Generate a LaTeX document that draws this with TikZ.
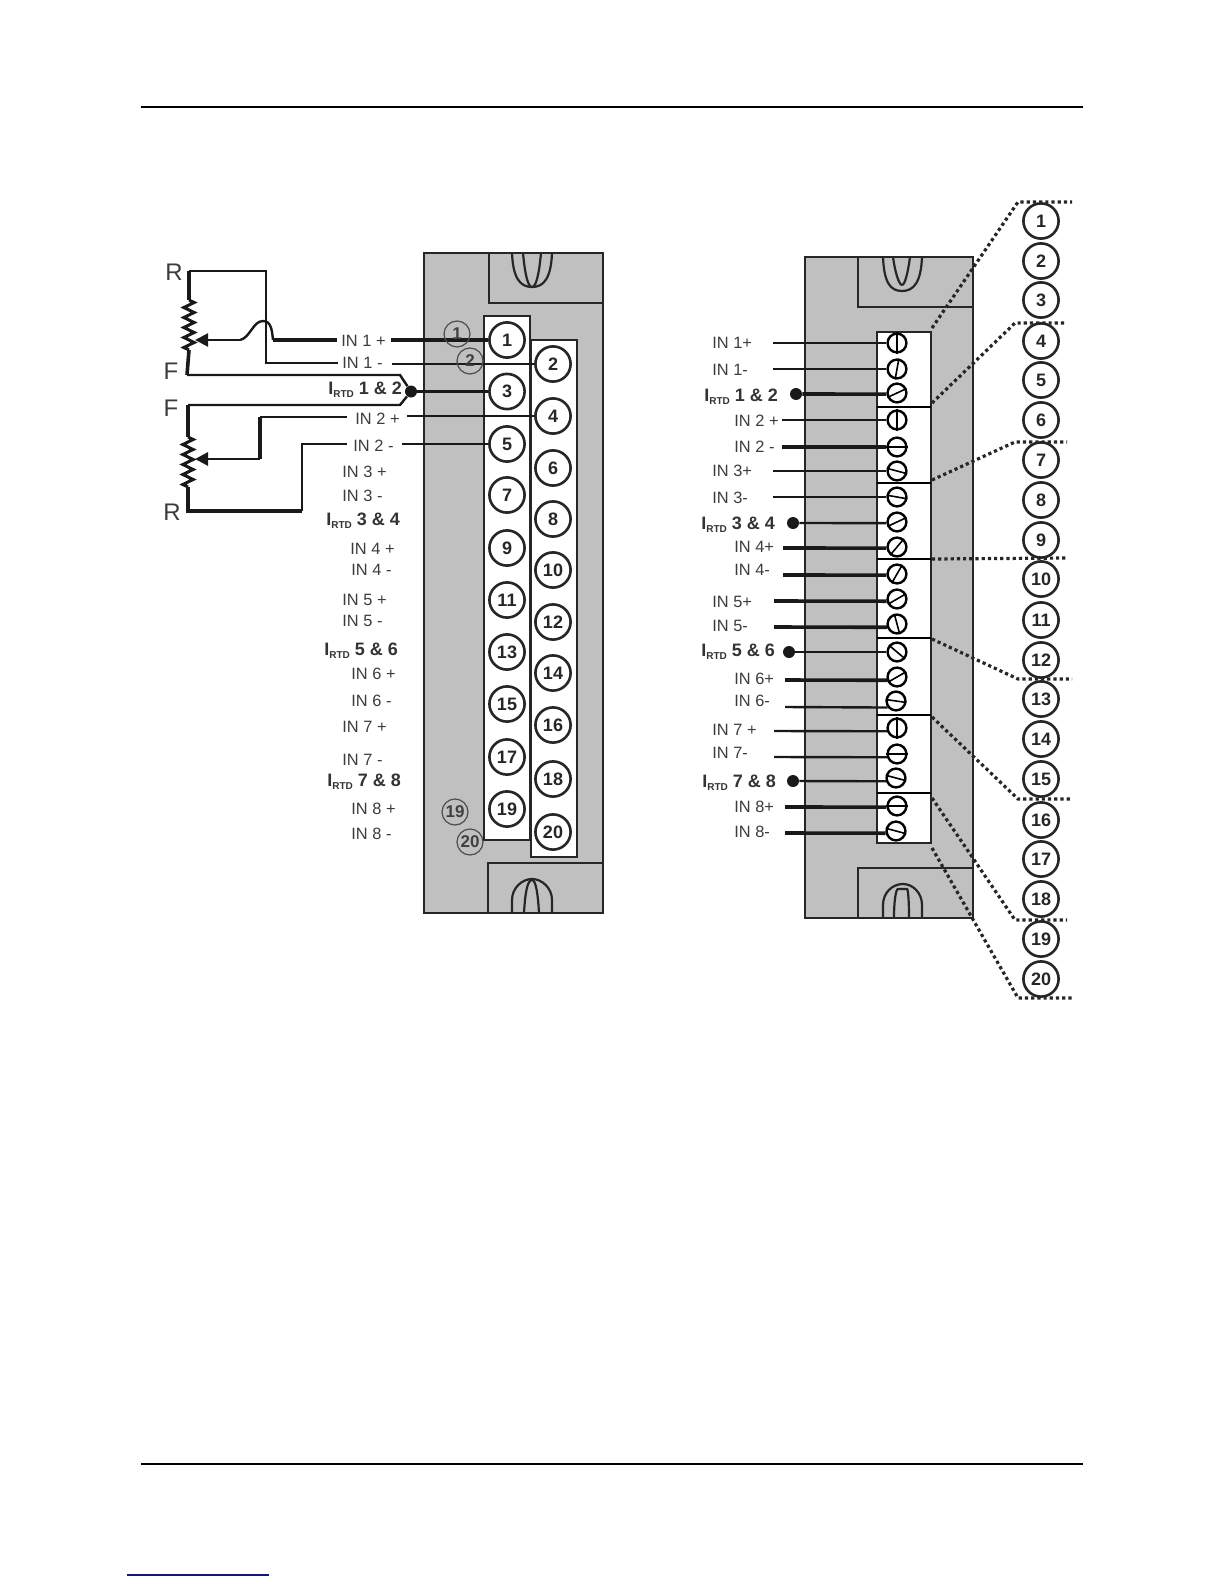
\documentclass[tikz,border=0pt]{standalone}
\usepackage{fontspec}
\setmainfont{Liberation Sans}
\usetikzlibrary{arrows.meta,decorations.pathmorphing}
\definecolor{housinggray}{RGB}{192,192,192}
\definecolor{labelgray}{RGB}{60,60,60}
\definecolor{linkblue}{RGB}{20,20,130}
\newcommand{\irtd}{I\raisebox{-0.35ex}{\fontsize{5}{5}\selectfont RTD}}
\begin{document}
\begin{tikzpicture}[
            x=0.5pt, y=-0.5pt,
            body/.style={draw=black!85, line width=1.3pt, fill=housinggray},
            strip/.style={draw=black!85, line width=1.3pt, fill=white},
            latch/.style={draw=black!85, line width=1.1pt},
            terminal/.style={circle, draw=black!85, fill=white, line width=1.3pt, minimum size=17.6pt, inner sep=0pt, font=\bfseries\fontsize{9}{9}\selectfont, text=black!85},
            pinmark/.style={circle, draw=black!70, line width=0.6pt, minimum size=13pt, inner sep=0pt, font=\bfseries\fontsize{8.5}{8.5}\selectfont, text=black!75},
            screw/.style={circle, draw=black, fill=white, line width=1.2pt, minimum size=9.4pt, inner sep=0pt},
            slot/.style={draw=black, line width=0.8pt},
            lbl/.style={anchor=west, inner sep=0pt, text=labelgray, font=\fontsize{8.2}{8.2}\selectfont},
            irtdlbl/.style={anchor=west, inner sep=0pt, text=black!80, font=\bfseries\fontsize{9}{9}\selectfont},
            letter/.style={inner sep=0pt, text=labelgray, font=\fontsize{12}{12}\selectfont},
            dot/.style={circle, fill=black!90, minimum size=6pt, inner sep=0pt},
            thinwire/.style={draw=black!85, line width=1pt},
            wire/.style={draw=black!90, line width=1.2pt},
            thickwire/.style={draw=black!90, line width=1.8pt},
            wiper/.style={draw=black!90, line width=1.1pt, -{Stealth[length=6.5pt,width=6.5pt,inset=0pt]}},
            zig/.style={draw=black!90, line width=1.5pt, decorate, decoration={zigzag, amplitude=2.6pt, segment length=5pt}},
            dots/.style={draw=black!85, line width=1.6pt, dash pattern=on 1.6pt off 1.5pt}
        ]
            \useasboundingbox (0,0) rectangle (1224,1584);
            % page rules
            \draw[line width=0.7pt] (141,107) -- (1083,107);
            \draw[line width=0.7pt] (141,1464) -- (1083,1464);
            \draw[line width=0.8pt, linkblue] (127,1575) -- (269,1575);

            % left housing
            \draw[body] (424,253) rectangle (603,913);
            \draw[body] (489,253) rectangle (603,303);
            \draw[body] (488,863) rectangle (603,913);
            \draw[latch] (512,253) .. controls (513,278) and (520,287) .. (532,287) .. controls (544,287) and (551,278) .. (552,253);
            \draw[latch] (523,253) .. controls (525,275) and (528,287) .. (532,287);
            \draw[latch] (541,253) .. controls (539,275) and (536,287) .. (532,287);
            \draw[latch] (512,913) -- (512,900) .. controls (512,888) and (522,879) .. (532,879) .. controls (542,879) and (552,888) .. (552,900) -- (552,913);
            \draw[latch] (524,913) .. controls (525,895) and (527,880) .. (532,880);
            \draw[latch] (539,913) .. controls (538,895) and (536,880) .. (532,880);
            \draw[strip] (484,316) rectangle (530,840);
            \draw[strip] (531,340) rectangle (577,857);

            % left terminals
            \node[terminal] (t1) at (507,340) {1};
            \node[terminal] (t3) at (507,391.5) {3};
            \node[terminal] (t5) at (507,444) {5};
            \node[terminal] (t7) at (507,495) {7};
            \node[terminal] (t9) at (507,548) {9};
            \node[terminal] (t11) at (507,600) {11};
            \node[terminal] (t13) at (507,652) {13};
            \node[terminal] (t15) at (507,704) {15};
            \node[terminal] (t17) at (507,757) {17};
            \node[terminal] (t19) at (507,809) {19};
            \node[terminal] (t2) at (553,364) {2};
            \node[terminal] (t4) at (553,416) {4};
            \node[terminal] (t6) at (553,468) {6};
            \node[terminal] (t8) at (553,519) {8};
            \node[terminal] (t10) at (553,570) {10};
            \node[terminal] (t12) at (553,622) {12};
            \node[terminal] (t14) at (553,673) {14};
            \node[terminal] (t16) at (553,725) {16};
            \node[terminal] (t18) at (553,779) {18};
            \node[terminal] (t20) at (553,832) {20};

            % left labels
            \node[lbl] (lin1p) at (341,341) {IN 1 +};
            \node[lbl] (lin1m) at (342,363) {IN 1 -};
            \node[irtdlbl] (lirtd12) at (328,390) {\irtd{} 1 \& 2};
            \node[lbl] (lin2p) at (355,419) {IN 2 +};
            \node[lbl] (lin2m) at (353,446) {IN 2 -};
            \node[lbl] (lin3p) at (342,472) {IN 3 +};
            \node[lbl] (lin3m) at (342,496) {IN 3 -};
            \node[irtdlbl] (lirtd34) at (326,521) {\irtd{} 3 \& 4};
            \node[lbl] (lin4p) at (350,549) {IN 4 +};
            \node[lbl] (lin4m) at (351,570) {IN 4 -};
            \node[lbl] (lin5p) at (342,600) {IN 5 +};
            \node[lbl] (lin5m) at (342,621) {IN 5 -};
            \node[irtdlbl] (lirtd56) at (324,651) {\irtd{} 5 \& 6};
            \node[lbl] (lin6p) at (351,674) {IN 6 +};
            \node[lbl] (lin6m) at (351,701) {IN 6 -};
            \node[lbl] (lin7p) at (342,727) {IN 7 +};
            \node[lbl] (lin7m) at (342,760) {IN 7 -};
            \node[irtdlbl] (lirtd78) at (327,782) {\irtd{} 7 \& 8};
            \node[lbl] (lin8p) at (351,809) {IN 8 +};
            \node[lbl] (lin8m) at (351,834) {IN 8 -};
            \node[letter] (r1lbl) at (174,272) {R};
            \node[letter] (f1lbl) at (171,371) {F};
            \node[letter] (f2lbl) at (171,408) {F};
            \node[letter] (r2lbl) at (172,512) {R};

            % left wires
            \coordinate (r1top) at (189,271);
            \coordinate (r1a) at (189,300);
            \coordinate (r1b) at (189,350);
            \coordinate (r1bot) at (187,375);
            \coordinate (r1tip) at (195,340);
            \coordinate (hump1) at (240,340);
            \coordinate (hump2) at (273,340);
            \coordinate (in1pa) at (337,340);
            \coordinate (in1pb) at (391,340);
            \coordinate (r1turn) at (266,271);
            \coordinate (in1ma) at (338,363);
            \coordinate (in1mb) at (392,364);
            \coordinate (fold1) at (400,375);
            \coordinate (fold2) at (400,405);
            \node[dot] (dot12) at (411,391.5) {};
            \coordinate (r2top) at (188,405);
            \coordinate (r2a) at (188,437);
            \coordinate (r2b) at (188,487);
            \coordinate (r2bot) at (188,511);
            \coordinate (r2tip) at (195,459);
            \coordinate (bend1) at (260,459);
            \coordinate (bend2) at (260,417);
            \coordinate (in2pa) at (347,417);
            \coordinate (in2pb) at (407,416);
            \coordinate (bend3) at (302,511);
            \coordinate (bend4) at (302,444);
            \coordinate (in2ma) at (347,444);
            \coordinate (in2mb) at (402,444);

            \draw[thickwire] (r1top) -- (r1a);
            \draw[zig] (r1a) -- (r1b);
            \draw[thickwire] (r1b) -- (r1bot);
            \draw[wire] (r1top) -- (r1turn) -- (r1turn |- in1ma) -- (in1ma);
            \draw[wiper] (hump1) -- (r1tip);
            \draw[wire] (hump1) .. controls (250,338) and (253,321) .. (263,321) .. controls (271,321) and (272,330) .. (hump2);
            \draw[thickwire] (hump2) -- (in1pa);
            \draw[thickwire] (in1pb) -- (t1);
            \draw[wire] (in1mb) -- (t2);
            \draw[wire] (r1bot) -- (fold1) -- (dot12) -- (fold2) -- (r2top);
            \draw[thickwire] (dot12) -- (t3);
            \draw[thickwire] (r2top) -- (r2a);
            \draw[zig] (r2a) -- (r2b);
            \draw[thickwire] (r2b) -- (r2bot) -- (bend3);
            \draw[wire] (bend3) -- (bend4) -- (in2ma);
            \draw[wiper, line width=1.4pt] (bend1) -- (r2tip);
            \draw[thickwire] (bend2) -- (bend1);
            \draw[wire] (in2pa) -- (bend2);
            \draw[wire] (in2pb) -- (t4);
            \draw[wire] (in2mb) -- (t5);

            % left overlays
            \node[pinmark] (m1) at (457,334) {1};
            \node[pinmark] (m2) at (470,361) {2};
            \node[pinmark] (m19) at (455,812) {19};
            \node[pinmark] (m20) at (470,842) {20};

            % right housing
            \draw[body] (805,257) rectangle (973,918);
            \draw[body] (858,257) rectangle (973,307);
            \draw[body] (858,868) rectangle (973,918);
            \draw[latch] (883,257) .. controls (884,282) and (890,291) .. (902,291) .. controls (914,291) and (921,282) .. (922,257);
            \draw[latch] (893,257) .. controls (895,272) and (899,285) .. (902,285);
            \draw[latch] (910,257) .. controls (908,272) and (905,285) .. (902,285);
            \draw[latch] (883,918) -- (883,905) .. controls (883,893) and (892,884) .. (903,884) .. controls (913,884) and (922,893) .. (922,905) -- (922,918);
            \draw[latch] (894,918) .. controls (894,900) and (896,889) .. (898,889) -- (907,889) .. controls (908,889) and (909,900) .. (909,918);
            \draw[strip] (877,332) rectangle (931,843);
            \draw[line width=1pt] (877,407) -- (931,407);
            \draw[line width=1pt] (877,483) -- (931,483);
            \draw[line width=1.4pt] (877,559) -- (931,559);
            \draw[line width=1.2pt] (877,638) -- (931,638);
            \draw[line width=0.7pt] (877,715) -- (931,715);
            \draw[line width=1.2pt] (877,793) -- (931,793);

            % callout lines
            \coordinate (ca) at (932,328);
            \coordinate (cb) at (932,403);
            \coordinate (cc) at (932,480);
            \coordinate (cd) at (932,559);
            \coordinate (ce) at (932,639);
            \coordinate (cf) at (932,717);
            \coordinate (cg) at (932,798);
            \coordinate (ch) at (932,848);
            \coordinate (ka) at (1018,202);
            \coordinate (kb) at (1015,323);
            \coordinate (kc) at (1015,442);
            \coordinate (ke) at (1018,679);
            \coordinate (kf) at (1018,799);
            \coordinate (kg) at (1015,920);
            \coordinate (kh) at (1018,998);
            \coordinate (ea) at (1072,202);
            \coordinate (eb) at (1067,323);
            \coordinate (ec) at (1067,442);
            \coordinate (ed) at (1067,558);
            \coordinate (ee) at (1072,679);
            \coordinate (ef) at (1072,799);
            \coordinate (eg) at (1067,920);
            \coordinate (eh) at (1072,998);
            \draw[dots] (ca) -- (ka) -- (ea);
            \draw[dots] (cb) -- (kb) -- (eb);
            \draw[dots] (cc) -- (kc) -- (ec);
            \draw[dots] (cd) -- (ed);
            \draw[dots] (ce) -- (ke) -- (ee);
            \draw[dots] (cf) -- (kf) -- (ef);
            \draw[dots] (cg) -- (kg) -- (eg);
            \draw[dots] (ch) -- (kh) -- (eh);

            % expanded numbers
            \node[terminal] (x1) at (1041,221) {1};
            \node[terminal] (x2) at (1041,261) {2};
            \node[terminal] (x3) at (1041,300) {3};
            \node[terminal] (x4) at (1041,341) {4};
            \node[terminal] (x5) at (1041,380) {5};
            \node[terminal] (x6) at (1041,420) {6};
            \node[terminal] (x7) at (1041,460) {7};
            \node[terminal] (x8) at (1041,500) {8};
            \node[terminal] (x9) at (1041,540) {9};
            \node[terminal] (x10) at (1041,579) {10};
            \node[terminal] (x11) at (1041,620) {11};
            \node[terminal] (x12) at (1041,660) {12};
            \node[terminal] (x13) at (1041,699) {13};
            \node[terminal] (x14) at (1041,739) {14};
            \node[terminal] (x15) at (1041,779) {15};
            \node[terminal] (x16) at (1041,820) {16};
            \node[terminal] (x17) at (1041,859) {17};
            \node[terminal] (x18) at (1041,899) {18};
            \node[terminal] (x19) at (1041,939) {19};
            \node[terminal] (x20) at (1041,979) {20};

            % screws
            \node[screw] (s1) at (897,343) {};
            \node[screw] (s2) at (897,369) {};
            \node[screw] (s3) at (897,393) {};
            \node[screw] (s4) at (897,420) {};
            \node[screw] (s5) at (897,447) {};
            \node[screw] (s6) at (897,471) {};
            \node[screw] (s7) at (897,497) {};
            \node[screw] (s8) at (897,522) {};
            \node[screw] (s9) at (897,547) {};
            \node[screw] (s10) at (897,574) {};
            \node[screw] (s11) at (897,599) {};
            \node[screw] (s12) at (897,624) {};
            \node[screw] (s13) at (897,652) {};
            \node[screw] (s14) at (897,677) {};
            \node[screw] (s15) at (896,701) {};
            \node[screw] (s16) at (897,728) {};
            \node[screw] (s17) at (897,754) {};
            \node[screw] (s18) at (896,778) {};
            \node[screw] (s19) at (897,806) {};
            \node[screw] (s20) at (896,831) {};
            \draw[slot] (s1.90) -- (s1.270);
            \draw[slot] (s2.80) -- (s2.260);
            \draw[slot] (s3.25) -- (s3.205);
            \draw[slot] (s4.90) -- (s4.270);
            \draw[slot] (s5.0) -- (s5.180);
            \draw[slot] (s6.-15) -- (s6.165);
            \draw[slot] (s7.-10) -- (s7.170);
            \draw[slot] (s8.25) -- (s8.205);
            \draw[slot] (s9.50) -- (s9.230);
            \draw[slot] (s10.60) -- (s10.240);
            \draw[slot] (s11.30) -- (s11.210);
            \draw[slot] (s12.-75) -- (s12.105);
            \draw[slot] (s13.-40) -- (s13.140);
            \draw[slot] (s14.30) -- (s14.210);
            \draw[slot] (s15.-8) -- (s15.172);
            \draw[slot] (s16.90) -- (s16.270);
            \draw[slot] (s17.0) -- (s17.180);
            \draw[slot] (s18.-15) -- (s18.165);
            \draw[slot] (s19.0) -- (s19.180);
            \draw[slot] (s20.-15) -- (s20.165);

            % right labels
            \node[lbl] (rin1p) at (712,343) {IN 1+};
            \node[lbl] (rin1m) at (712,370) {IN 1-};
            \node[irtdlbl] (rirtd12) at (704,397) {\irtd{} 1 \& 2};
            \node[lbl] (rin2p) at (734,421) {IN 2 +};
            \node[lbl] (rin2m) at (734,447) {IN 2 -};
            \node[lbl] (rin3p) at (712,471) {IN 3+};
            \node[lbl] (rin3m) at (712,498) {IN 3-};
            \node[irtdlbl] (rirtd34) at (701,525) {\irtd{} 3 \& 4};
            \node[lbl] (rin4p) at (734,547) {IN 4+};
            \node[lbl] (rin4m) at (734,570) {IN 4-};
            \node[lbl] (rin5p) at (712,602) {IN 5+};
            \node[lbl] (rin5m) at (712,626) {IN 5-};
            \node[irtdlbl] (rirtd56) at (701,652) {\irtd{} 5 \& 6};
            \node[lbl] (rin6p) at (734,679) {IN 6+};
            \node[lbl] (rin6m) at (734,701) {IN 6-};
            \node[lbl] (rin7p) at (712,730) {IN 7 +};
            \node[lbl] (rin7m) at (712,753) {IN 7-};
            \node[irtdlbl] (rirtd78) at (702,783) {\irtd{} 7 \& 8};
            \node[lbl] (rin8p) at (734,807) {IN 8+};
            \node[lbl] (rin8m) at (734,832) {IN 8-};

            % right wires
            \coordinate (w1) at (773,343);
            \coordinate (w2) at (773,369);
            \node[dot] (d12) at (796,394) {};
            \coordinate (w4) at (782,420);
            \coordinate (w5) at (782,447);
            \coordinate (w6) at (773,471);
            \coordinate (w7) at (773,497);
            \node[dot] (d34) at (793,523) {};
            \coordinate (w9) at (783,548);
            \coordinate (w10) at (783,575);
            \coordinate (w11) at (774,601);
            \coordinate (w12) at (774,627);
            \node[dot] (d56) at (789,652) {};
            \coordinate (w14) at (785,680);
            \coordinate (w15) at (785,707);
            \coordinate (w16) at (774,731);
            \coordinate (w17) at (774,757);
            \node[dot] (d78) at (793,781) {};
            \coordinate (w19) at (785,807);
            \coordinate (w20) at (785,833);
            \draw[wire] (w1) -- (s1);
            \draw[wire] (w2) -- (s2);
            \draw[thickwire] (d12) -- (s3.186);
            \draw[wire] (w4) -- (s4);
            \draw[thickwire] (w5) -- (s5);
            \draw[wire] (w6) -- (s6);
            \draw[wire] (w7) -- (s7);
            \draw[wire] (d34) -- (s8.186);
            \draw[thickwire] (w9) -- (s9.186);
            \draw[thickwire] (w10) -- (s10.186);
            \draw[thickwire] (w11) -- (s11.192);
            \draw[thickwire] (w12) -- (s12.198);
            \draw[wire] (d56) -- (s13);
            \draw[thickwire] (w14) -- (s14.198);
            \draw[wire] (w15) -- (s15.218);
            \draw[wire] (w16) -- (s16.198);
            \draw[wire] (w17) -- (s17.198);
            \draw[wire] (d78) -- (s18.198);
            \draw[thickwire] (w19) -- (s19.186);
            \draw[thickwire] (w20) -- (s20.192);
        \end{tikzpicture}
\end{document}
